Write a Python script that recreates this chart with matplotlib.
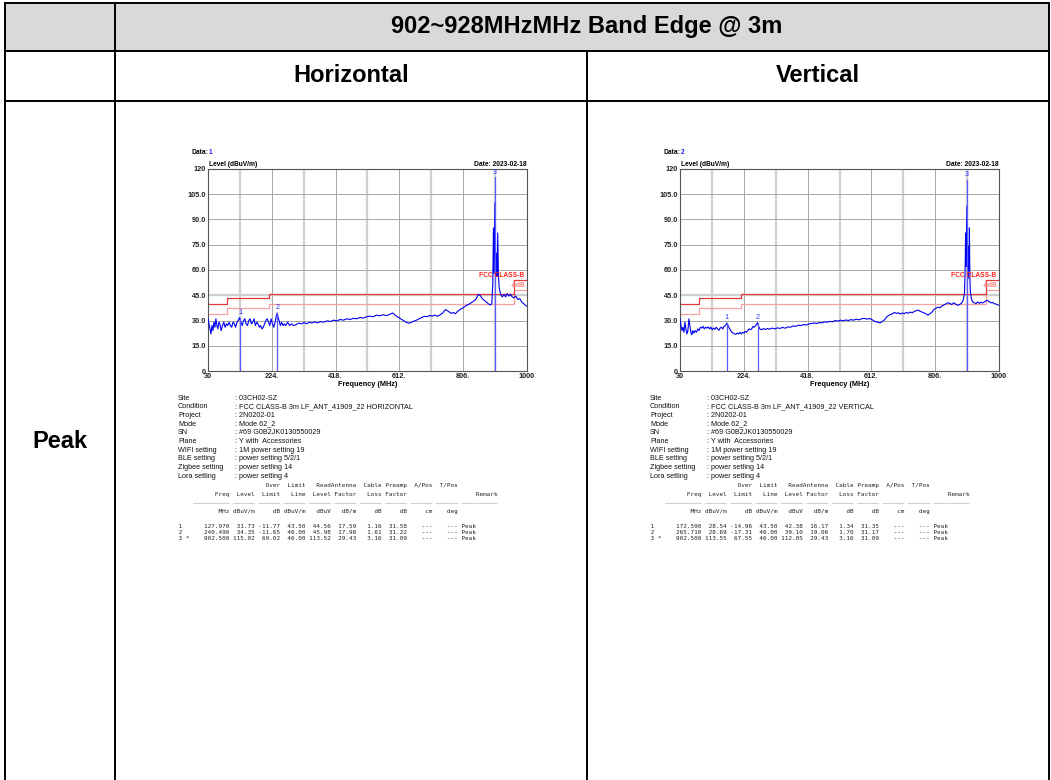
import matplotlib
matplotlib.use("Agg")
import matplotlib.pyplot as plt

# ---- data ----
title = "902~928MHzMHz Band Edge @ 3m"
col_titles = ["Horizontal", "Vertical"]
row_title = "Peak"

freq_h = [30, 33, 36, 39, 42, 45, 48, 51, 54, 57, 60, 63, 66, 70, 74, 78, 82, 86, 90, 94,
          98, 102, 106, 110, 114, 118, 122, 126, 130, 134, 138, 142, 146, 150, 154, 158,
          162, 166, 170, 174, 178, 182, 186, 190, 194, 198, 202, 206, 210, 214, 218, 222,
          226, 230, 234, 238, 240.5, 243, 246, 250, 254, 258, 262, 266, 272, 278, 284, 290,
          298, 306, 314, 322, 330, 338, 346, 354, 362, 372, 382, 392, 402, 412, 422, 432,
          442, 452, 462, 472, 482, 492, 502, 512, 522, 532, 542, 552, 562, 572, 582, 592,
          600, 608, 616, 624, 632, 640, 648, 656, 664, 672, 680, 688, 696, 704, 712, 720,
          728, 736, 744, 752, 758, 764, 770, 776, 782, 790, 798, 806, 814, 822, 830, 838,
          846, 852, 858, 864, 870, 876, 882, 888, 893, 896, 898, 900, 902.5, 904.5, 907,
          909, 911, 913, 915, 918, 921, 925, 930, 935, 940, 945, 950, 955, 960, 966, 972,
          978, 984, 990, 995, 1000]
level_h = [31, 28, 25, 22, 27, 24, 29, 26, 31, 27, 25, 29, 28, 24, 27, 29, 26, 28, 27, 29,
           27, 26, 29, 28, 26, 29, 30, 31.7, 29, 27, 30, 31, 28, 27, 30, 31,
           28, 29, 31, 27, 29, 28, 26, 27, 25, 26, 28, 30, 31, 29, 27, 31,
           28, 26, 29, 33, 34.4, 32, 30, 27, 29, 27, 28, 27, 29, 27, 28, 27,
           27.5, 28.5, 28, 28.8, 28, 29, 28.5, 29.2, 28.6, 29.3, 29, 29.8, 29.4, 30.2, 29.8, 30.6,
           30.2, 31, 30.6, 31.3, 31, 31.8, 31.4, 32.2, 32.6, 32.2, 33.2, 32.8, 33.4, 32.9, 33.6, 34.5,
           33, 32, 31, 30, 29, 28.4, 28.8, 29.6, 30.2, 31, 31.8, 32.5, 32.2, 33, 32.6, 33.2,
           32.5, 33.4, 34.5, 36.5, 35.8, 35, 34.2, 34.8, 34, 35.5, 36.8, 37.5, 38.8, 39.5, 40.5, 41.5,
           43, 45.5, 44.8, 43, 42, 41, 40, 39.2, 40, 52, 85, 58, 100, 62, 70,
           56, 82, 58, 50, 47, 45, 44, 45.5, 44, 46, 44.5, 45.5, 44, 43.5, 44.5, 42.5,
           43, 41, 40, 39, 38.5]

freq_v = [30, 33, 36, 39, 42, 45, 48, 51, 54, 57, 60, 63, 66, 69, 72, 76, 80, 84, 88, 92,
          96, 100, 104, 108, 112, 116, 120, 124, 128, 132, 136, 140, 144, 148, 152, 156,
          160, 164, 168, 172.6, 176, 180, 184, 188, 192, 196, 200, 204, 208, 212, 216, 220,
          224, 228, 232, 236, 240, 244, 248, 252, 256, 260, 265.7, 269, 273, 278, 284, 290,
          296, 302, 310, 318, 326, 334, 342, 350, 358, 366, 374, 382, 390, 398, 406, 414,
          422, 430, 438, 446, 454, 462, 470, 478, 486, 494, 502, 510, 518, 526, 534, 542,
          550, 558, 566, 574, 582, 590, 598, 606, 614, 622, 630, 638, 646, 652, 658, 664,
          670, 676, 682, 688, 694, 700, 706, 712, 718, 724, 730, 736, 742, 748, 754, 760,
          766, 772, 778, 784, 790, 796, 802, 808, 814, 820, 826, 832, 838, 844, 850, 856,
          862, 868, 874, 880, 886, 891, 895, 897, 898.5, 900, 902.5, 904, 905.5, 907, 908.5,
          910, 911.5, 913, 916, 920, 925, 930, 935, 940, 945, 950, 955, 960, 965, 970, 975,
          980, 985, 990, 995, 1000]
level_v = [31, 27, 24, 26, 23, 29, 25, 22, 24, 31, 27, 23, 21.5, 24, 22.5, 24, 23, 25, 24, 26,
           25.5, 26.5, 25, 26, 25.5, 26.2, 25, 26, 24.5, 25.5, 24.8, 26, 25, 24.2, 25.5, 26,
           25, 26.5, 27, 28.5, 27, 25.5, 24, 23, 22.5, 22, 21.8, 22.5, 22, 23, 22, 23,
           22.5, 23.5, 23, 24, 25, 24.5, 25, 26.5, 26, 27, 28.7, 26.5, 25, 24.5, 25.2, 24.6,
           25.3, 24.8, 25.5, 25, 25.6, 25.3, 25.9, 25.4, 26.2, 26, 26.8, 26.5, 27.2, 27, 27.6, 27.3,
           28, 28.2, 28.5, 28.2, 28.8, 28.6, 29.2, 29, 29.5, 29.2, 30, 29.6, 30.2, 29.8, 30.3, 30,
           30.5, 30.2, 30.8, 30.4, 31, 31.3, 30.8, 31.2, 30.5, 29.5, 29, 28.6, 29.5, 30.5, 32, 33,
           33.5, 34, 34.8, 34.2, 34.6, 33.8, 34.5, 34, 34.8, 34.3, 35, 34.6, 35.3, 35.8, 36.2, 35.5,
           35, 34.5, 34, 33.2, 34, 35, 36.5, 37.2, 38, 37.5, 38.5, 39.2, 39.8, 40.5, 40.2, 39.5,
           40.5, 39.8, 39, 39.5, 40.2, 42, 46, 60, 82, 62, 98, 70, 55, 74, 60,
           85, 55, 47, 43, 41, 40.5, 40, 41, 40.2, 40.8, 40.4, 41, 41.6, 42, 41.2, 40.5,
           40.8, 40, 39.8, 39.4, 39]

# FCC class B limit (step line) and -6 dB margin
limit_f = [30, 88, 88, 216, 216, 960, 960, 1000]
limit_l = [40, 40, 43.5, 43.5, 46, 46, 54, 54]
margin_l = [34, 34, 37.5, 37.5, 40, 40, 48, 48]

# marker tables: freq, level, over limit, limit, read level, antenna, cable, preamp
mk_h = [[127.970, 31.73, -11.77, 43.50, 44.56, 17.59, 1.16, 31.58],
        [240.490, 34.35, -11.65, 46.00, 45.98, 17.98, 1.61, 31.22],
        [902.500, 115.02, 69.02, 46.00, 113.52, 29.43, 3.16, 31.09]]
mk_v = [[172.590, 28.54, -14.96, 43.50, 42.38, 16.17, 1.34, 31.35],
        [265.710, 28.69, -17.31, 46.00, 39.10, 19.06, 1.70, 31.17],
        [902.500, 113.55, 67.55, 46.00, 112.05, 29.43, 3.16, 31.09]]

info_keys = ["Site", "Condition", "Project", "Mode", "SN", "Plane", "WIFI setting",
             "BLE setting", "Zigbee setting", "Lora setting"]
info_h = ["03CH02-SZ", "FCC CLASS-B 3m LF_ANT_41909_22 HORIZONTAL", "2N0202-01", "Mode 62_2",
          "#69 G0B2JK0130550029", "Y with  Accessories", "1M power setting 19",
          "power setting 5/2/1", "power setting 14", "power setting 4"]
info_v = info_h[:1] + ["FCC CLASS-B 3m LF_ANT_41909_22 VERTICAL"] + info_h[2:]

W, H = 1051, 780
fig = plt.figure(figsize=(W / 100, H / 100), dpi=100)
base = fig.add_axes([0, 0, 1, 1])
base.set_xlim(0, W)
base.set_ylim(H, 0)
base.axis("off")

SANS = ["Liberation Sans", "DejaVu Sans"]
MONO = ["DejaVu Sans Mono"]

# ---- table frame ----
base.fill_between([5, 1049], 3, 51, color="#d9d9d9", lw=0)
for y in [3, 51, 101]:
    base.plot([5, 1049], [y, y], color="black", lw=1.4)
for x, y0 in [(5, 3), (115, 3), (587, 51), (1049, 3)]:
    base.plot([x, x], [y0, H], color="black", lw=1.4)
base.text(587, 27, title, ha="center", va="center", fontsize=17, weight="bold", family=SANS)
base.text(351, 76, col_titles[0], ha="center", va="center", fontsize=17, weight="bold", family=SANS)
base.text(818, 76, col_titles[1], ha="center", va="center", fontsize=17, weight="bold", family=SANS)
base.text(60, 441, row_title, ha="center", va="center", fontsize=17, weight="bold", family=SANS)


def emc_panel(dx, data_no, freq, level, markers, info):
    x0, x1, y0, y1 = 208 + dx, 527 + dx, 169, 371
    ax = fig.add_axes([x0 / W, 1 - y1 / H, (x1 - x0) / W, (y1 - y0) / H])
    ax.set_xlim(30, 1000)
    ax.set_ylim(0, 120)
    for i, g in enumerate(range(127, 1000, 97)):
        if i % 2 == 0:
            ax.axvline(g, color="#d0d0d0", lw=1.6, zorder=0)
        else:
            ax.axvline(g, color="#9a9a9a", lw=0.6, zorder=0)
    for g in range(15, 120, 15):
        if g == 45:
            ax.axhline(g, color="#d0d0d0", lw=1.6, zorder=0)
        else:
            ax.axhline(g, color="#a8a8a8", lw=0.7, zorder=0)
    ax.plot(limit_f, margin_l, color="#f4a0a0", lw=0.9, zorder=2)
    ax.plot(limit_f, limit_l, color="#e23a3a", lw=0.9, zorder=2)
    ax.text(992, 56.5, "FCC CLASS-B", color="#ff2020", fontsize=4.8, weight="bold",
            ha="right", va="center", family=SANS, zorder=4)
    ax.text(996, 50.5, "-6dB", color="#ff8080", fontsize=4.8, weight="bold",
            ha="right", va="center", family=SANS, zorder=4)
    ax.plot(freq, level, color="#0000f0", lw=0.8, zorder=3)
    for k, m in enumerate(markers):
        ax.plot([m[0], m[0]], [0, m[1]], color="#5a5aff", lw=0.9, zorder=3)
        ax.text(m[0], m[1] + 1, str(k + 1), color="#3030ff", fontsize=5.2, ha="center",
                va="bottom", family=SANS, zorder=4)
    ax.set_xticks([30, 224, 418, 612, 806, 1000])
    ax.set_xticklabels(["30", "224.", "418.", "612.", "806.", "1000"])
    ax.set_yticks(range(0, 121, 15))
    ax.set_yticklabels(["0"] + [f"{v:.1f}" for v in range(15, 120, 15)] + ["120"])
    ax.tick_params(length=0, pad=1.5, labelsize=5.3, colors="#222222")
    for lab in ax.get_xticklabels() + ax.get_yticklabels():
        lab.set_fontweight("bold")
        lab.set_family(SANS)
    for s in ax.spines.values():
        s.set_color("#555555")
        s.set_linewidth(0.8)
    ax.set_xlabel("Frequency (MHz)", fontsize=5.3, weight="bold", family=SANS, labelpad=1)

    # labels round the plot
    base.text(191 + dx, 153, "Data:", fontsize=4.8, weight="bold", family=SANS, va="center")
    base.text(209 + dx, 153, str(data_no), fontsize=4.8, weight="bold", family=SANS,
              va="center", color="#2020ff")
    base.text(x0 + 1, y0 - 1, "Level (dBuV/m)", fontsize=4.8, weight="bold", family=SANS,
              va="bottom")
    base.text(x1, y0 - 1, "Date: 2023-02-18", fontsize=4.8, weight="bold", family=SANS,
              va="bottom", ha="right")

    # info block
    for i, (k, v) in enumerate(zip(info_keys, info)):
        y = 398 + i * 8.67
        base.text(178 + dx, y, k, fontsize=5.2, family=SANS, va="center", color="#111111")
        base.text(235 + dx, y, ": " + v, fontsize=5.2, family=SANS, va="center", color="#111111")

    # marker table in monospaced text
    h1 = " " * 22 + f"{'Over':>7}{'Limit':>7}{'Read':>7}{'Antenna':>7}{'Cable':>7}{'Preamp':>7}{'A/Pos':>7}{'T/Pos':>7}"
    h2 = (" " * 4 + f"{'Freq':>11}{'Level':>7}{'Limit':>7}{'Line':>7}{'Level':>7}{'Factor':>7}"
          f"{'Loss':>7}{'Factor':>7}" + " " * 14 + "     Remark")
    h3 = " " * 5 + "_" * 10 + (" " + "_" * 6) * 9 + " " + "_" * 10
    h4 = (" " * 4 + f"{'MHz':>11}{'dBuV/m':>7}{'dB':>7}{'dBuV/m':>7}{'dBuV':>7}{'dB/m':>7}"
          f"{'dB':>7}{'dB':>7}{'cm':>7}{'deg':>7}")
    tx = 175 + dx
    for y, line in [(485, h1), (494.3, h2), (500.5, h3), (511.3, h4)]:
        base.text(tx, y, line, fontsize=4.3, family=MONO, va="center", color="#222222")
    for i, m in enumerate(markers):
        star = "*" if m[1] > m[3] else " "
        row = (f"{i + 1:>2} {star}{m[0]:>11.3f}" + "".join(f"{v:>7.2f}" for v in m[1:])
               + f"{'---':>7}{'---':>7} Peak")
        base.text(tx, 526 + i * 6, row, fontsize=4.3, family=MONO, va="center", color="#222222")


emc_panel(0, 1, freq_h, level_h, mk_h, info_h)
emc_panel(472, 2, freq_v, level_v, mk_v, info_v)

fig.savefig("out.png", dpi=100)
